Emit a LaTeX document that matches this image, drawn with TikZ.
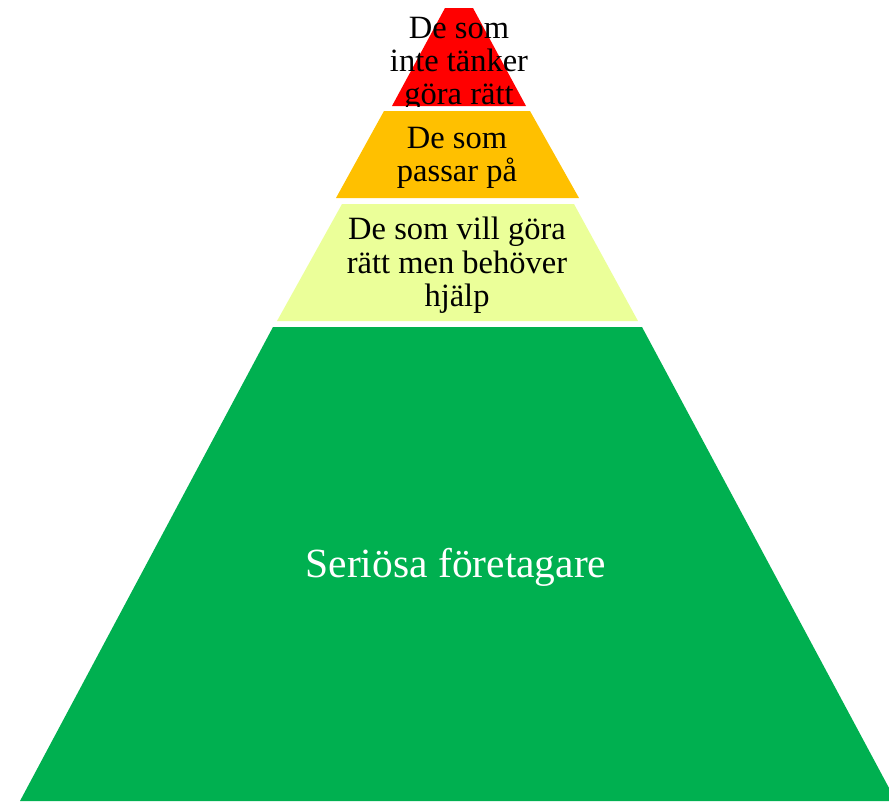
\documentclass[tikz,border=0pt]{standalone}
\usepackage{fontspec}
\setmainfont{Liberation Serif}
\definecolor{tierred}{RGB}{255,0,0}
\definecolor{tierorange}{RGB}{255,192,0}
\definecolor{tieryellow}{RGB}{235,255,153}
\definecolor{tiergreen}{RGB}{0,176,80}
\begin{document}
\begin{tikzpicture}[x=1pt,y=-1pt,
  lbl/.style={anchor=base,inner sep=0pt,font=\fontsize{32.5}{38}\selectfont,text=black},
  biglbl/.style={anchor=base,inner sep=0pt,font=\fontsize{41.5}{48}\selectfont,text=white}]
\useasboundingbox (0,0) rectangle (889,801);
\clip (0,0) rectangle (889,801);
% tiers
\fill[tiergreen] (273,327) -- (642,327) -- (896,801) -- (20,801) -- cycle;
\fill[tieryellow] (342,204) -- (574,204) -- (638,321) -- (277,321) -- cycle;
\fill[tierorange] (384,111) -- (530,111) -- (579,198) -- (336,198) -- cycle;
\fill[tierred] (445,8) -- (473,8) -- (526,106) -- (392,106) -- cycle;
% red tier text (clipped at tier bottom)
\begin{scope}
\clip (0,0) rectangle (889,106);
\node[lbl] (r1) at (459,38) {De som};
\node[lbl] (r2) at (459,71) {inte tänker};
\node[lbl] (r3) at (459,104) {göra rätt};
\end{scope}
% orange tier text
\node[lbl] (o1) at (457,148) {De som};
\node[lbl] (o2) at (457,181) {passar på};
% yellow tier text
\node[lbl] (y1) at (457,239) {De som vill göra};
\node[lbl] (y2) at (457,273) {rätt men behöver};
\node[lbl] (y3) at (457,306) {hjälp};
% green tier text
\node[biglbl] (g1) at (456,577) {Seriösa företagare};
\end{tikzpicture}
\end{document}
